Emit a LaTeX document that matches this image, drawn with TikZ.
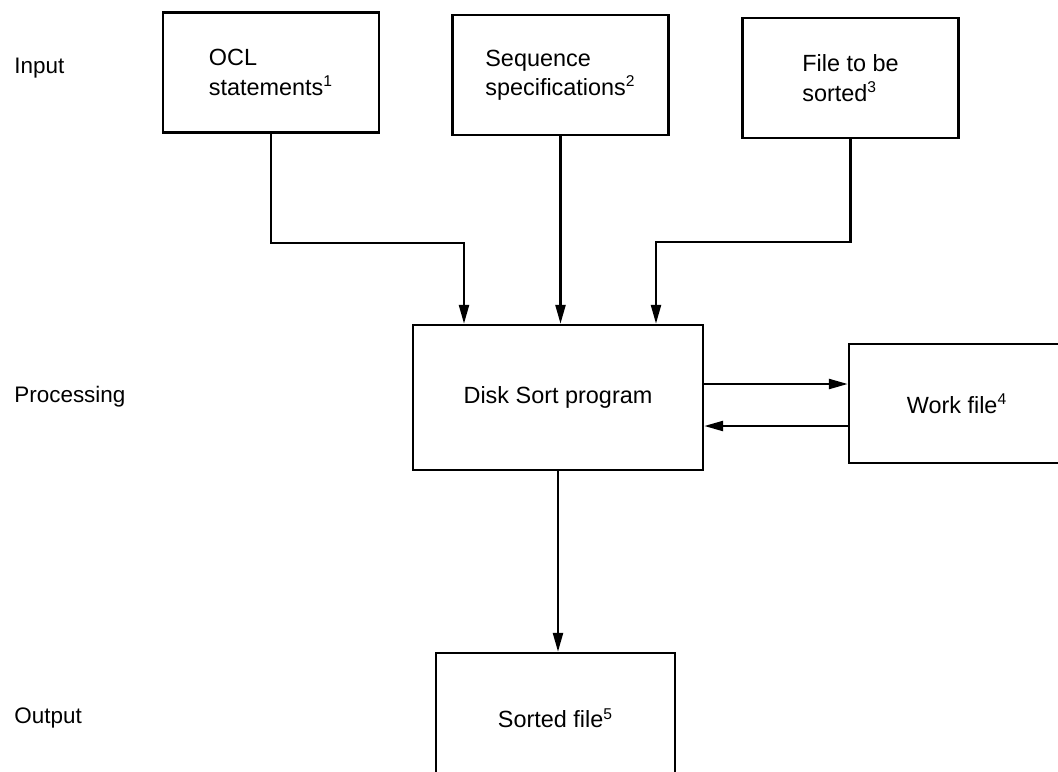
\documentclass[tikz,border=0pt]{standalone}
\usepackage{fontspec}
\setmainfont{Liberation Sans}
\usetikzlibrary{arrows.meta, positioning}

\def\px{0.018cm}

\tikzset{
    block/.style={draw, line width=1.3pt, align=left, inner sep=0pt,
        font=\fontsize{12}{15}\selectfont},
    flow/.style={line width=1.2pt, -{Triangle[length=3.4mm, width=1.8mm]}},
    stage/.style={anchor=west, inner sep=0pt, font=\fontsize{11.5}{14}\selectfont}
}

\begin{document}
\begin{tikzpicture}[x=\px, y=-\px]

            % Page frame
            \useasboundingbox (0,0) rectangle (1058,771);

            % Stage labels on the left
            \foreach \y/\name/\txt in {68/lin/Input, 397/lproc/Processing, 718/lout/Output} {
                    \node[stage] (\name) at (14,\y) {\txt};
                }

            % Input blocks
            \foreach \name/\cx/\cy/\txt in {ocl/271/72.5/{OCL\\statements\textsuperscript{1}},
                    seq/560.5/75/{Sequence\\specifications\textsuperscript{2}},
                    file/850.5/78/{File to be\\sorted\textsuperscript{3}}} {
                    \node[block, minimum width={216*\px}, minimum height={120*\px}] (\name) at (\cx,\cy) {\txt};
                }

            % Processing and output blocks
            \node[block, minimum width={290*\px}, minimum height={145*\px}] (disk) at (558,397.5) {Disk Sort program};
            \node[block, minimum width={216*\px}, minimum height={119*\px}] (work) at (957,403.5) {Work file\textsuperscript{4}};
            \node[block, minimum width={239*\px}, minimum height={130*\px}] (sorted) at (555.5,718) {Sorted file\textsuperscript{5}};

            % Connectors
            \draw[flow] (ocl.south) -- ++(0,109) -| ([xshift={-94*\px}]disk.north);
            \draw[flow] (seq.south) -- (seq.south |- disk.north);
            \draw[flow] (file.south) -- ++(0,103) -| ([xshift={98*\px}]disk.north);
            \draw[flow] ([yshift={13.5*\px}]disk.east) -- ([yshift={13.5*\px}]disk.east -| work.west);
            \draw[flow] ([yshift={-28.5*\px}]disk.east -| work.west) -- ([yshift={-28.5*\px}]disk.east);
            \draw[flow] (disk.south) -- (disk.south |- sorted.north);
        \end{tikzpicture}
\end{document}
